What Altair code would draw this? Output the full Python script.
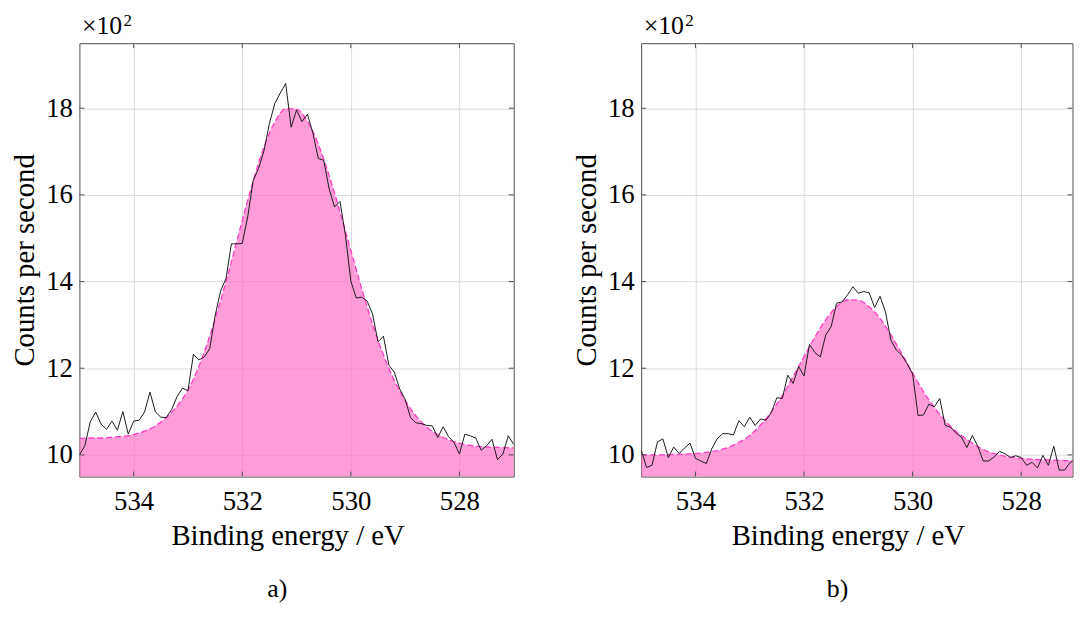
import altair as alt
import pandas as pd

# Binding energy grid of the measured spectra (eV)
energy = [535.0, 534.9, 534.8, 534.7, 534.6, 534.5, 534.4, 534.3, 534.2, 534.1,
          534.0, 533.9, 533.8, 533.7, 533.6, 533.5, 533.4, 533.3, 533.2, 533.1,
          533.0, 532.9, 532.8, 532.7, 532.6, 532.5, 532.4, 532.3, 532.2, 532.1,
          532.0, 531.9, 531.8, 531.7, 531.6, 531.5, 531.4, 531.3, 531.2, 531.1,
          531.0, 530.9, 530.8, 530.7, 530.6, 530.5, 530.4, 530.3, 530.2, 530.1,
          530.0, 529.9, 529.8, 529.7, 529.6, 529.5, 529.4, 529.3, 529.2, 529.1,
          529.0, 528.9, 528.8, 528.7, 528.6, 528.5, 528.4, 528.3, 528.2, 528.1,
          528.0, 527.9, 527.8, 527.7, 527.6, 527.5, 527.4, 527.3, 527.2, 527.1,
          527.0]

# Measured counts per second, panel a)
counts_a = [1000, 1021, 1076, 1099, 1071, 1059, 1078, 1057, 1100, 1048,
            1078, 1080, 1099, 1145, 1099, 1087, 1086, 1105, 1135, 1154,
            1148, 1232, 1219, 1226, 1245, 1321, 1378, 1407, 1487, 1487,
            1488, 1549, 1633, 1661, 1702, 1765, 1811, 1835, 1857, 1756,
            1796, 1769, 1786, 1743, 1684, 1680, 1614, 1572, 1585, 1507,
            1401, 1362, 1364, 1355, 1325, 1261, 1274, 1207, 1191, 1152,
            1128, 1086, 1074, 1072, 1068, 1067, 1040, 1065, 1042, 1029,
            1002, 1048, 1044, 1039, 1011, 1021, 1036, 989, 1002, 1044,
            1024]

# Measured counts per second, panel b)
counts_b = [1011, 971, 976, 1030, 1037, 994, 1018, 1003, 1016, 1027,
            992, 986, 980, 1014, 1037, 1049, 1049, 1046, 1079, 1065,
            1087, 1068, 1083, 1080, 1098, 1132, 1130, 1184, 1165, 1204,
            1182, 1255, 1236, 1226, 1277, 1296, 1350, 1353, 1369, 1388,
            1373, 1377, 1374, 1340, 1366, 1330, 1265, 1242, 1230, 1210,
            1187, 1091, 1092, 1117, 1111, 1130, 1068, 1064, 1050, 1041,
            1017, 1045, 1020, 986, 986, 995, 1008, 1003, 994, 998,
            994, 976, 983, 970, 999, 976, 1020, 965, 965, 982,
            990]

# Fitted envelope
fit_energy = [535.0, 534.8, 534.6, 534.4, 534.2, 534.0, 533.8, 533.6, 533.4, 533.2,
              533.0, 532.8, 532.6, 532.4, 532.2, 532.0, 531.8, 531.6, 531.4, 531.2,
              531.0, 530.8, 530.6, 530.4, 530.2, 530.0, 529.8, 529.6, 529.4, 529.2,
              529.0, 528.8, 528.6, 528.4, 528.2, 528.0, 527.8, 527.6, 527.4, 527.2,
              527.0]
fit_a = [1038, 1039, 1039, 1041, 1043, 1047, 1055, 1067, 1086, 1113,
         1150, 1204, 1274, 1356, 1446, 1541, 1632, 1711, 1768, 1799,
         1798, 1770, 1717, 1645, 1561, 1472, 1384, 1302, 1231, 1172,
         1126, 1090, 1064, 1047, 1035, 1027, 1022, 1019, 1018, 1017,
         1016]
fit_b = [1000, 1000, 1000, 1001, 1002, 1003, 1006, 1010, 1017, 1029,
         1045, 1069, 1100, 1137, 1181, 1227, 1272, 1312, 1342, 1358,
         1357, 1342, 1315, 1277, 1234, 1189, 1146, 1110, 1079, 1054,
         1036, 1019, 1007, 1000, 995, 992, 990, 989, 988, 987,
         986]

x_ticks = [534, 532, 530, 528]
y_ticks = [1000, 1200, 1400, 1600, 1800]
x_domain_a = [527, 535]
x_domain_b = [527.055, 535]   # right panel runs off the page edge in the original
y_domain = [950, 1950]
mult_base = ["×10"]
mult_exp = ["2"]
panel_labels = ["a)", "b)"]

W_A, W_B, H = 438, 435, 437
FONT = "Liberation Serif"
BOX = "#4d4d4d"


def panel(counts, fit, label, W, x_domain):
    df = pd.DataFrame({"energy": energy, "counts": counts})
    dfit = pd.DataFrame({"energy": fit_energy, "fit": fit})
    xs = alt.Scale(domain=x_domain, reverse=True, nice=False, zero=False)
    ys = alt.Scale(domain=y_domain, nice=False, zero=False)
    xax = alt.Axis(values=x_ticks, format="d", title="Binding energy / eV",
                   grid=True, titleX=W / 2 - 9)
    yax = alt.Axis(values=y_ticks, labelExpr="format(datum.value / 100, 'd')",
                   title="Counts per second", grid=True)
    X = lambda f: alt.X(f, scale=xs, axis=xax)
    Y = lambda f: alt.Y(f, scale=ys, axis=yax)

    area = alt.Chart(dfit).mark_area(
        color="#ff69c4", opacity=0.65, interpolate="monotone", clip=True
    ).encode(x=X("energy:Q"), y=Y("fit:Q"))
    fitline = alt.Chart(dfit).mark_line(
        color="#ff3cc6", strokeDash=[6, 3], strokeWidth=1.3,
        interpolate="monotone", clip=True
    ).encode(x=X("energy:Q"), y=Y("fit:Q"))
    data = alt.Chart(df).mark_line(
        color="#1a1a1a", strokeWidth=1, clip=True
    ).encode(x=X("energy:Q"), y=Y("counts:Q"))

    tx = pd.DataFrame({"t": x_ticks})
    ty = pd.DataFrame({"t": y_ticks})
    tick_bottom = alt.Chart(tx).mark_rule(color=BOX).encode(
        x=X("t:Q"), y=alt.value(H), y2=alt.value(H - 5))
    tick_top = alt.Chart(tx).mark_rule(color=BOX).encode(
        x=X("t:Q"), y=alt.value(0), y2=alt.value(5))
    tick_left = alt.Chart(ty).mark_rule(color=BOX).encode(
        y=Y("t:Q"), x=alt.value(0), x2=alt.value(5))
    tick_right = alt.Chart(ty).mark_rule(color=BOX).encode(
        y=Y("t:Q"), x=alt.value(W), x2=alt.value(W - 5))

    m_base = alt.Chart(pd.DataFrame({"s": mult_base})).mark_text(
        align="left", baseline="alphabetic", font=FONT, fontSize=26, color="black"
    ).encode(text="s:N", x=alt.value(2.5), y=alt.value(-9))
    m_exp = alt.Chart(pd.DataFrame({"s": mult_exp})).mark_text(
        align="left", baseline="alphabetic", font=FONT, fontSize=17, color="black"
    ).encode(text="s:N", x=alt.value(44.5), y=alt.value(-17))

    return alt.layer(
        area, fitline, data, tick_bottom, tick_top, tick_left, tick_right,
        m_base, m_exp
    ).properties(
        width=W, height=H,
        title=alt.Title(label, orient="bottom", font=FONT, fontSize=26,
                        fontWeight="normal", color="black", offset=26, dx=-19.5,
                        anchor="middle"),
    )


chart = alt.hconcat(
    panel(counts_a, fit_a, panel_labels[0], W_A, x_domain_a),
    panel(counts_b, fit_b, panel_labels[1], W_B, x_domain_b),
    spacing=57.5,
).properties(
    padding={"left": 2, "top": 1, "right": 0, "bottom": 0}
).configure_view(
    stroke=BOX, strokeWidth=1
).configure_axis(
    ticks=False, domain=False,
    labelFont=FONT, labelFontSize=27, labelColor="black",
    titleFont=FONT, titleFontSize=29, titleFontWeight="normal", titleColor="black",
    gridColor="#dcdcdc", gridWidth=1,
).configure_axisX(
    labelPadding=12, titlePadding=7.5,
).configure_axisY(
    labelPadding=7, titlePadding=6.3,
)

chart.save("out.html", embed_options={"renderer": "svg", "actions": False})
